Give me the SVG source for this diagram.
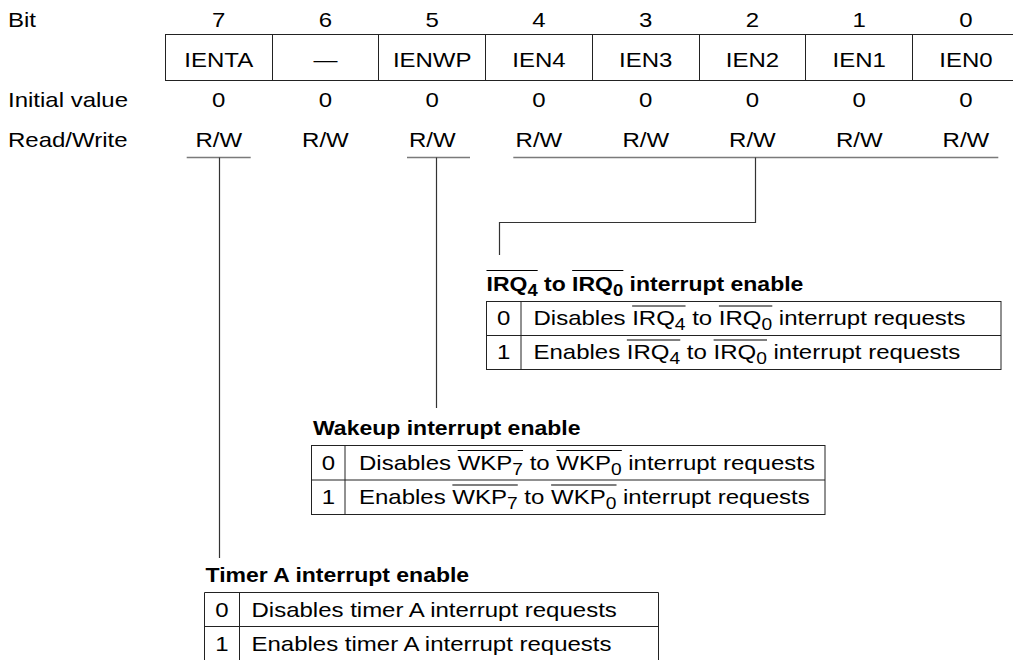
<svg xmlns="http://www.w3.org/2000/svg" width="1013" height="660" viewBox="0 0 1013 660">
<style>
.t{font-family:"Liberation Sans",Arial,sans-serif;font-size:20px;fill:#000}
.b{font-weight:bold}
.m{text-anchor:middle}
.sub{font-size:16px}
.box{fill:none;stroke:#222;stroke-width:1}
.ul{stroke:#7a7a7a;stroke-width:1.6;fill:none}
.cn{fill:none;stroke:#333;stroke-width:1.2}
.ov{stroke:#000;stroke-width:1}
</style>
<rect width="1013" height="660" fill="#fff"/>
<g id="register">
<text class="t" transform="translate(8,27) scale(1.2,1)">Bit</text>
<text class="t" transform="translate(8,107) scale(1.2,1)">Initial value</text>
<text class="t" transform="translate(8,146.5) scale(1.2,1)">Read/Write</text>
<g class="t m">
<text transform="translate(218.7,27) scale(1.2,1)">7</text>
<text transform="translate(325.4,27) scale(1.2,1)">6</text>
<text transform="translate(432.2,27) scale(1.2,1)">5</text>
<text transform="translate(538.9,27) scale(1.2,1)">4</text>
<text transform="translate(645.7,27) scale(1.2,1)">3</text>
<text transform="translate(752.4,27) scale(1.2,1)">2</text>
<text transform="translate(859.2,27) scale(1.2,1)">1</text>
<text transform="translate(965.9,27) scale(1.2,1)">0</text>
<text transform="translate(218.7,67) scale(1.2,1)">IENTA</text>
<text transform="translate(325.4,67) scale(1.2,1)">—</text>
<text transform="translate(432.2,67) scale(1.2,1)">IENWP</text>
<text transform="translate(538.9,67) scale(1.2,1)">IEN4</text>
<text transform="translate(645.7,67) scale(1.2,1)">IEN3</text>
<text transform="translate(752.4,67) scale(1.2,1)">IEN2</text>
<text transform="translate(859.2,67) scale(1.2,1)">IEN1</text>
<text transform="translate(965.9,67) scale(1.2,1)">IEN0</text>
<text transform="translate(218.7,107) scale(1.2,1)">0</text>
<text transform="translate(325.4,107) scale(1.2,1)">0</text>
<text transform="translate(432.2,107) scale(1.2,1)">0</text>
<text transform="translate(538.9,107) scale(1.2,1)">0</text>
<text transform="translate(645.7,107) scale(1.2,1)">0</text>
<text transform="translate(752.4,107) scale(1.2,1)">0</text>
<text transform="translate(859.2,107) scale(1.2,1)">0</text>
<text transform="translate(965.9,107) scale(1.2,1)">0</text>
<text transform="translate(218.7,146.5) scale(1.2,1)">R/W</text>
<text transform="translate(325.4,146.5) scale(1.2,1)">R/W</text>
<text transform="translate(432.2,146.5) scale(1.2,1)">R/W</text>
<text transform="translate(538.9,146.5) scale(1.2,1)">R/W</text>
<text transform="translate(645.7,146.5) scale(1.2,1)">R/W</text>
<text transform="translate(752.4,146.5) scale(1.2,1)">R/W</text>
<text transform="translate(859.2,146.5) scale(1.2,1)">R/W</text>
<text transform="translate(965.9,146.5) scale(1.2,1)">R/W</text>
</g>
<rect class="box" x="165.5" y="34.5" width="854" height="46"/>
<path class="box" d="M272.5 34.5V80.5M378.5 34.5V80.5M485.5 34.5V80.5M592.5 34.5V80.5M699.5 34.5V80.5M805.5 34.5V80.5M912.5 34.5V80.5"/>
<path class="ul" d="M186.7 157.5H250.7M407 157.5H470M513.3 157.5H998.3"/>
</g>
<g id="connectors">
<path class="cn" d="M219.5 157.5V558"/>
<path class="cn" d="M436.5 157.5V408"/>
<path class="cn" d="M755.5 157.5V222.5H499.5V255"/>
</g>
<g id="irq">
<g transform="translate(486.5,291) scale(1.15,1)">
<text class="t b" x="0" y="0">IRQ<tspan class="sub" dy="5">4</tspan><tspan dy="-5"> to IRQ</tspan><tspan class="sub" dy="5">0</tspan><tspan dy="-5"> interrupt enable</tspan></text>
<path class="ov" d="M0 -20.5H44.5M74.5 -20.5H119"/>
</g>
<rect class="box" x="486.5" y="301.5" width="514.5" height="68"/>
<path class="box" d="M486.5 335.5H1001M521 301.5V369.5"/>
<text class="t m" transform="translate(503.7,325) scale(1.2,1)">0</text>
<text class="t m" transform="translate(503.7,359) scale(1.2,1)">1</text>
<g transform="translate(533.5,325) scale(1.2,1)">
<text class="t" x="0" y="0">Disables IRQ<tspan class="sub" dy="5">4</tspan><tspan dy="-5"> to IRQ</tspan><tspan class="sub" dy="5">0</tspan><tspan dy="-5"> interrupt requests</tspan></text>
<path class="ov" d="M82.2 -19H126.7M154.5 -19H199"/>
</g>
<g transform="translate(533.5,359) scale(1.2,1)">
<text class="t" x="0" y="0">Enables IRQ<tspan class="sub" dy="5">4</tspan><tspan dy="-5"> to IRQ</tspan><tspan class="sub" dy="5">0</tspan><tspan dy="-5"> interrupt requests</tspan></text>
<path class="ov" d="M77.8 -19H122.3M150.1 -19H194.6"/>
</g>
</g>
<g id="wkp">
<text class="t b" transform="translate(313,434.5) scale(1.15,1)">Wakeup interrupt enable</text>
<rect class="box" x="311.5" y="445.5" width="513.5" height="69"/>
<path class="box" d="M311.5 480H825M345 445.5V514.5"/>
<text class="t m" transform="translate(328.3,469.5) scale(1.2,1)">0</text>
<text class="t m" transform="translate(328.3,504) scale(1.2,1)">1</text>
<g transform="translate(359,469.5) scale(1.2,1)">
<text class="t" x="0" y="0">Disables WKP<tspan class="sub" dy="5">7</tspan><tspan dy="-5"> to WKP</tspan><tspan class="sub" dy="5">0</tspan><tspan dy="-5"> interrupt requests</tspan></text>
<path class="ov" d="M82.2 -19H136.7M164.5 -19H219"/>
</g>
<g transform="translate(359,504) scale(1.2,1)">
<text class="t" x="0" y="0">Enables WKP<tspan class="sub" dy="5">7</tspan><tspan dy="-5"> to WKP</tspan><tspan class="sub" dy="5">0</tspan><tspan dy="-5"> interrupt requests</tspan></text>
<path class="ov" d="M77.8 -19H132.3M160.1 -19H214.6"/>
</g>
</g>
<g id="timer">
<text class="t b" transform="translate(205.5,582) scale(1.15,1)">Timer A interrupt enable</text>
<path class="box" d="M204.5 670V592.5H658.5V670M204.5 626.5H658.5M239.5 592.5V670"/>
<text class="t m" transform="translate(222,616.5) scale(1.2,1)">0</text>
<text class="t m" transform="translate(222,650.5) scale(1.2,1)">1</text>
<text class="t" transform="translate(251.5,616.5) scale(1.2,1)">Disables timer A interrupt requests</text>
<text class="t" transform="translate(251.5,650.5) scale(1.2,1)">Enables timer A interrupt requests</text>
</g>
</svg>
